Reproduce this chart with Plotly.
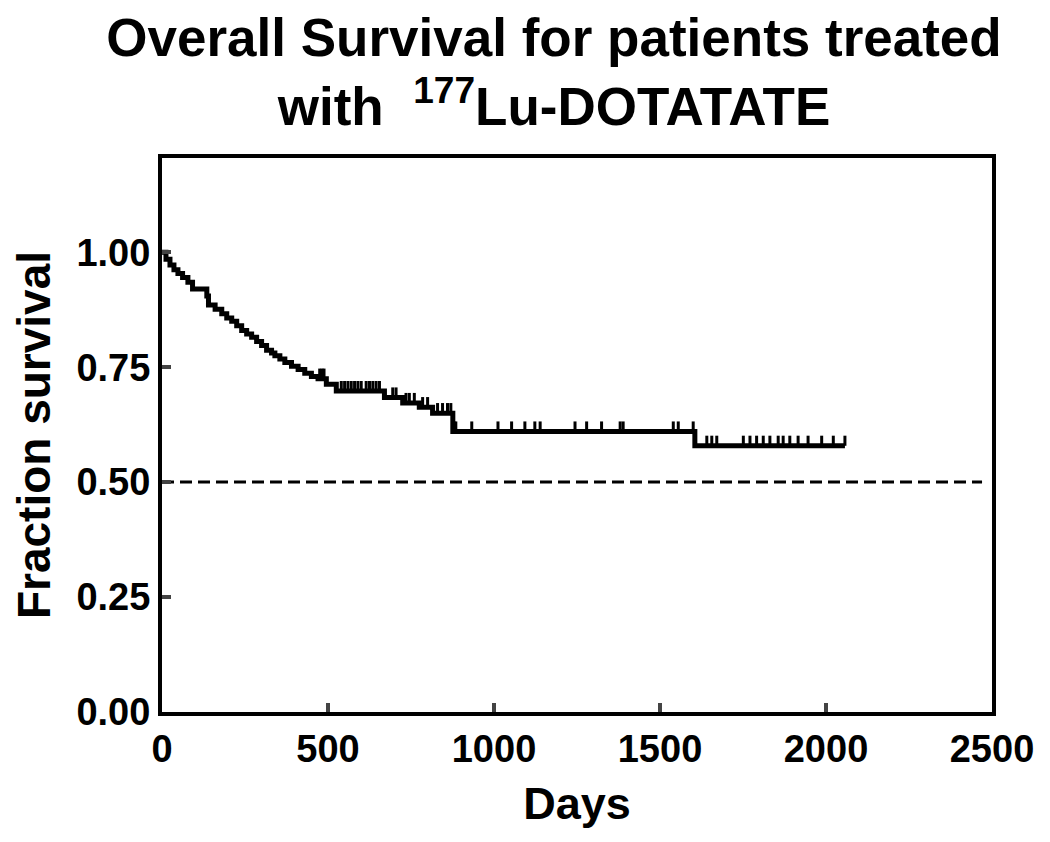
import plotly.graph_objects as go

# Kaplan-Meier step curve (days, survival fraction after each step)
step_days = [0, 12, 24, 36, 48, 62, 78, 92, 135, 140, 160, 180, 195, 210, 225, 240,
             255, 270, 285, 300, 315, 330, 340, 355, 370, 390, 410, 430, 450, 470,
             495, 525, 670, 725, 775, 815, 876, 1605, 2057]
step_surv = [1.0, 0.985, 0.972, 0.962, 0.954, 0.945, 0.935, 0.92, 0.905, 0.885, 0.876,
             0.866, 0.857, 0.85, 0.84, 0.83, 0.822, 0.815, 0.806, 0.797, 0.787, 0.781,
             0.775, 0.768, 0.76, 0.752, 0.745, 0.737, 0.73, 0.725, 0.713, 0.698, 0.684,
             0.672, 0.663, 0.65, 0.61, 0.579, 0.579]

# Censored observations (days, survival at censoring)
censor_days = [475, 482, 488, 540, 550, 560, 570, 580, 590, 600, 615, 625, 635, 645, 655,
               695, 705, 735, 745, 760, 785, 800, 830, 845, 860, 870,
               880, 885, 933, 1012, 1053, 1093, 1123, 1139, 1244, 1279, 1324, 1380, 1389,
               1540, 1555, 1600,
               1641, 1656, 1671, 1751, 1771, 1791, 1811, 1831, 1856, 1871, 1891, 1916,
               1946, 1987, 2022, 2057]
censor_surv = [0.725, 0.725, 0.725, 0.698, 0.698, 0.698, 0.698, 0.698, 0.698, 0.698, 0.698,
               0.698, 0.698, 0.698, 0.698,
               0.684, 0.684, 0.672, 0.672, 0.672, 0.663, 0.663, 0.65, 0.65, 0.65, 0.65,
               0.61, 0.61, 0.61, 0.61, 0.61, 0.61, 0.61, 0.61, 0.61, 0.61, 0.61, 0.61, 0.61,
               0.61, 0.61, 0.61,
               0.579, 0.579, 0.579, 0.579, 0.579, 0.579, 0.579, 0.579, 0.579, 0.579, 0.579,
               0.579, 0.579, 0.579, 0.579, 0.579]

# Median reference line
ref_days = [0, 2470]
ref_surv = [0.5, 0.5]

x_ticks = [0, 500, 1000, 1500, 2000, 2500]
y_ticks = [0.0, 0.25, 0.5, 0.75, 1.0]
y_tick_text = ["0.00", "0.25", "0.50", "0.75", "1.00"]

FONT = "Liberation Sans, Arial, sans-serif"
TICK_H = 0.022

cx, cy = [], []
for d, s in zip(censor_days, censor_surv):
    cx += [d, d, None]
    cy += [s, s + TICK_H, None]

fig = go.Figure()
fig.add_trace(go.Scatter(x=ref_days, y=ref_surv, mode="lines",
                         line=dict(color="black", width=3, dash="12px,6px"),
                         hoverinfo="skip", showlegend=False))
fig.add_trace(go.Scatter(x=step_days, y=step_surv, mode="lines",
                         line=dict(color="black", width=5, shape="hv"),
                         showlegend=False))
fig.add_trace(go.Scatter(x=cx, y=cy, mode="lines",
                         line=dict(color="black", width=3),
                         hoverinfo="skip", showlegend=False))

fig.update_layout(
    width=1050, height=842,
    margin=dict(l=154, r=66, t=150, b=138),
    paper_bgcolor="white", plot_bgcolor="white",
    font=dict(family=FONT, color="black"),
    title=dict(
        text="Overall Survival for patients treated<br>with\u00a0 <sup>177</sup>Lu-DOTATATE",
        x=546 / 1050, xanchor="center", y=1 - 48 / 842, yanchor="top",
        font=dict(family=FONT, size=53, weight="bold", color="black"),
    ),
    xaxis=dict(
        range=[0, 2500], tickvals=x_ticks, ticks="inside", ticklen=9, tickwidth=4,
        showline=True, linewidth=4, linecolor="black", mirror=True,
        showgrid=False, zeroline=False,
        tickfont=dict(family=FONT, size=38, weight="bold"),
        title=dict(text="Days", font=dict(family=FONT, size=45, weight="bold"), standoff=20),
    ),
    yaxis=dict(
        range=[0, 1.205], tickvals=y_ticks, ticktext=y_tick_text,
        ticks="inside", ticklen=9, tickwidth=4,
        showline=True, linewidth=4, linecolor="black", mirror=True,
        showgrid=False, zeroline=False,
        tickfont=dict(family=FONT, size=38, weight="bold"),
        title=dict(text="Fraction survival", font=dict(family=FONT, size=46, weight="bold"), standoff=12),
    ),
)

fig.write_html("out.html")
